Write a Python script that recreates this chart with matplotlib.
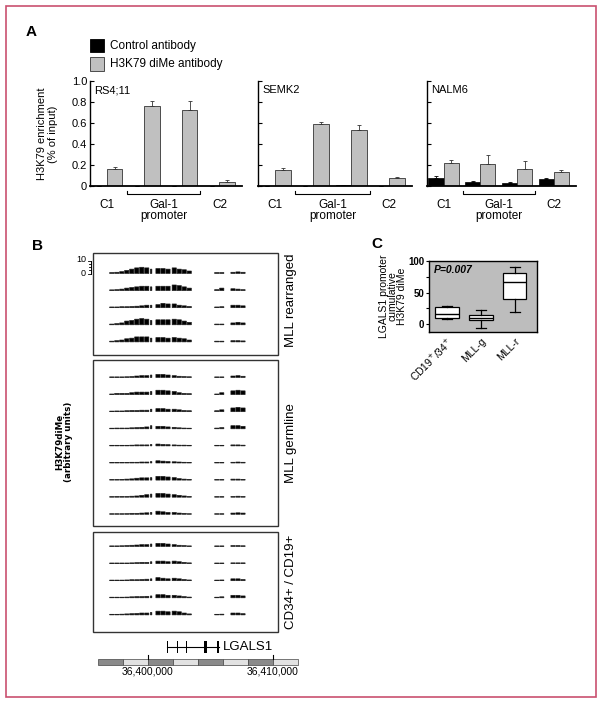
import matplotlib
matplotlib.use("Agg")
import matplotlib.pyplot as plt
from matplotlib.patches import Rectangle
import matplotlib.transforms as mtransforms

plt.rcParams["font.family"] = ["Liberation Sans", "DejaVu Sans"]

W, H = 602, 703

# ---------------- panel A data ----------------
cell_lines = ["RS4;11", "SEMK2", "NALM6"]
control_vals = {
    "RS4;11": [0.003, 0.004, 0.004, 0.003],
    "SEMK2": [0.004, 0.004, 0.008, 0.004],
    "NALM6": [0.08, 0.035, 0.03, 0.065],
}
control_err = {
    "RS4;11": [0, 0, 0, 0],
    "SEMK2": [0, 0, 0, 0],
    "NALM6": [0.015, 0.015, 0.008, 0.01],
}
h3k79_vals = {
    "RS4;11": [0.16, 0.76, 0.72, 0.04],
    "SEMK2": [0.155, 0.59, 0.53, 0.075],
    "NALM6": [0.22, 0.21, 0.165, 0.135],
}
h3k79_err = {
    "RS4;11": [0.025, 0.045, 0.09, 0.02],
    "SEMK2": [0.02, 0.015, 0.05, 0.006],
    "NALM6": [0.025, 0.09, 0.075, 0.015],
}
a_yticks = [0, 0.2, 0.4, 0.6, 0.8, 1.0]
a_yticklabels = ["0", "0.2", "0.4", "0.6", "0.8", "1.0"]

# ---------------- panel B data ----------------
# probe bins, kb relative to chr position 36,400,000
bin_kb = [-2.9, -2.5, -2.1, -1.7, -1.3, -0.9, -0.5, -0.1, 0.25,
          0.8, 1.2, 1.6, 2.1, 2.5, 2.9, 3.3, 5.5, 5.9, 6.8, 7.2, 7.6]
mll_rearranged = [
    [0.8, 1.0, 1.5, 2.5, 3.5, 4.5, 5.0, 4.5, 3.5, 4.0, 4.0, 3.5, 4.5, 3.5, 3.0, 2.0, 0.8, 0.8, 1.0, 1.3, 1.0],
    [0.6, 0.8, 1.2, 2.0, 2.5, 3.0, 3.5, 3.5, 3.0, 3.5, 3.5, 3.5, 4.5, 4.0, 3.0, 2.0, 0.8, 2.0, 1.5, 1.2, 0.8],
    [0.6, 0.6, 0.8, 0.8, 1.0, 1.2, 1.5, 2.0, 2.0, 2.5, 3.5, 3.0, 3.0, 2.0, 1.5, 1.0, 0.6, 0.8, 2.0, 2.0, 1.5],
    [0.6, 1.0, 1.5, 3.0, 3.5, 4.5, 5.0, 4.5, 3.5, 4.0, 4.0, 4.0, 4.5, 4.0, 3.0, 2.0, 0.6, 0.6, 1.5, 2.0, 1.5],
    [0.6, 1.0, 1.5, 2.5, 3.0, 4.0, 4.0, 4.0, 3.0, 3.5, 3.5, 3.0, 3.5, 3.0, 2.5, 1.5, 0.6, 0.6, 1.0, 1.0, 0.8],
]
mll_germline = [
    [0.5, 0.5, 0.5, 0.6, 0.8, 1.2, 1.5, 1.5, 2.0, 2.5, 2.5, 2.0, 1.5, 1.0, 0.8, 0.6, 0.5, 0.5, 1.2, 1.5, 1.0],
    [0.5, 1.0, 1.0, 1.0, 1.5, 2.0, 2.0, 2.0, 2.5, 3.5, 3.5, 3.0, 2.5, 1.5, 1.0, 0.8, 0.5, 1.5, 3.0, 3.5, 3.0],
    [0.5, 0.6, 0.6, 0.8, 1.0, 1.0, 1.2, 1.2, 2.0, 2.5, 2.5, 2.0, 2.0, 1.5, 1.0, 0.8, 0.8, 1.5, 3.0, 3.5, 3.0],
    [0.5, 0.6, 0.6, 0.6, 0.8, 1.0, 1.2, 1.5, 2.5, 2.0, 2.0, 1.5, 1.2, 0.8, 0.6, 0.5, 0.6, 1.0, 2.5, 2.5, 2.0],
    [0.5, 0.5, 0.5, 0.5, 0.6, 0.8, 0.8, 0.8, 1.2, 1.5, 1.2, 1.0, 0.8, 0.6, 0.6, 0.5, 0.5, 0.5, 0.8, 0.8, 0.6],
    [0.5, 0.5, 0.5, 0.5, 0.6, 0.6, 0.8, 0.8, 1.2, 1.8, 1.5, 1.2, 1.0, 0.8, 0.6, 0.5, 0.5, 0.5, 0.6, 0.8, 0.6],
    [0.5, 0.5, 0.6, 0.8, 1.0, 1.5, 1.8, 1.8, 2.0, 3.0, 3.0, 2.5, 2.0, 1.2, 0.8, 0.6, 0.5, 0.5, 0.8, 0.8, 0.6],
    [0.5, 0.6, 0.6, 0.6, 0.8, 1.0, 1.5, 2.0, 2.5, 3.0, 3.0, 2.5, 2.0, 1.5, 1.0, 0.6, 0.5, 0.5, 0.6, 0.8, 0.6],
    [0.5, 0.5, 0.5, 0.6, 0.8, 0.8, 1.0, 1.2, 1.5, 2.5, 2.0, 1.5, 1.5, 1.0, 0.8, 0.5, 0.5, 0.5, 1.0, 1.2, 1.0],
]
cd34_cd19 = [
    [0.5, 0.5, 0.6, 0.8, 1.0, 1.2, 1.5, 1.5, 2.0, 2.5, 2.5, 2.0, 1.5, 1.0, 0.8, 0.5, 0.5, 0.5, 0.8, 0.8, 0.6],
    [0.5, 0.5, 0.5, 0.5, 0.6, 0.8, 1.0, 1.0, 1.5, 2.0, 2.0, 1.5, 2.0, 1.5, 1.0, 0.6, 0.5, 0.5, 0.6, 0.6, 0.6],
    [0.5, 0.5, 0.5, 0.6, 0.8, 0.8, 1.0, 1.2, 1.5, 2.5, 2.0, 1.5, 2.0, 1.5, 1.0, 0.6, 0.5, 0.6, 1.5, 1.5, 1.0],
    [0.5, 0.5, 0.5, 0.6, 0.8, 1.0, 1.0, 1.2, 1.5, 2.5, 2.5, 2.0, 2.0, 1.5, 1.0, 0.6, 0.5, 0.8, 2.0, 2.0, 1.5],
    [0.5, 0.5, 0.6, 0.8, 1.0, 1.2, 1.5, 1.5, 2.0, 3.0, 3.0, 2.5, 3.0, 2.5, 1.5, 0.8, 0.5, 0.6, 1.5, 1.5, 1.0],
]
group_labels = ["MLL rearranged", "MLL germline", "CD34+ / CD19+"]
# LGALS1 gene model (kb), exon/feature start-end
gene_start, gene_end = 1.52, 5.68
gene_features = [(1.50, 1.58), (2.30, 2.38), (3.02, 3.10), (4.46, 4.74), (5.48, 5.68)]
ruler_segments_kb = [-4, -2, 0, 2, 4, 6, 8, 10]
ruler_ticks_kb = [0, 10]
ruler_ticklabels = ["36,400,000", "36,410,000"]

# ---------------- panel C data ----------------
c_groups = ["CD19$^{+}$/34$^{+}$", "MLL-g", "MLL-r"]
c_med = [16, 9.5, 66]
c_q1 = [9.5, 5.8, 40]
c_q3 = [27, 14.7, 80.5]
c_lo = [8.5, -6.3, 19]
c_hi = [29, 21.6, 90]


def fig_rect(left, top, right, bottom):
    return [left / W, 1 - bottom / H, (right - left) / W, (bottom - top) / H]


def fx(px):
    return px / W


def fy(py):
    return 1 - py / H


fig = plt.figure(figsize=(W / 100, H / 100), dpi=100)

# outer frame
fig.add_artist(Rectangle((fx(6), fy(697)), fx(596) - fx(6), fy(6) - fy(697),
                         transform=fig.transFigure, fill=False,
                         edgecolor="#C9506F", linewidth=1.2))

# panel letters
for letter, (px, py) in zip("ABC", [(26, 32), (32, 246), (371, 244)]):
    fig.text(fx(px), fy(py), letter, fontsize=11, fontweight="bold", va="center", ha="left")

# ---------------- panel A ----------------
GREY = "#C0C0C0"
fig.add_artist(Rectangle((fx(90), fy(52)), fx(104) - fx(90), fy(39) - fy(52),
                         transform=fig.transFigure, facecolor="black", edgecolor="black", lw=0.6))
fig.add_artist(Rectangle((fx(90), fy(71)), fx(104) - fx(90), fy(57) - fy(71),
                         transform=fig.transFigure, facecolor=GREY, edgecolor="#333333", lw=0.6))
fig.text(fx(110), fy(45.5), "Control antibody", fontsize=8.5, va="center")
fig.text(fx(110), fy(64), "H3K79 diMe antibody", fontsize=8.5, va="center")
fig.text(fx(47.5), fy(134), "H3K79 enrichment\n(% of input)", rotation=90, fontsize=8,
         ha="center", va="center", multialignment="center", linespacing=1.1)

a_boxes = [(90, 81, 242, 186), (258, 81, 412, 186), (427, 81, 576, 186)]
bw = 0.41
for i, name in enumerate(cell_lines):
    ax = fig.add_axes(fig_rect(*a_boxes[i]))
    x = range(4)
    xc = [g - bw / 2 for g in x]
    xg = [g + bw / 2 for g in x]
    ax.bar(xc, control_vals[name], bw, color="black", edgecolor="black", lw=0.5,
           yerr=[[0] * 4, control_err[name]], capsize=1.2,
           error_kw=dict(elinewidth=0.6, capthick=0.6, ecolor="black"))
    ax.bar(xg, h3k79_vals[name], bw, color=GREY, edgecolor="#333333", lw=0.6,
           yerr=[[0] * 4, h3k79_err[name]], capsize=1.2,
           error_kw=dict(elinewidth=0.6, capthick=0.6, ecolor="#333333"))
    ax.set_xlim(-0.45, 3.6)
    ax.set_ylim(0, 1.0)
    for s in ("top", "right"):
        ax.spines[s].set_visible(False)
    ax.spines["left"].set_linewidth(1.0)
    ax.spines["bottom"].set_linewidth(1.3)
    ax.set_xticks([])
    ax.set_yticks(a_yticks)
    ax.tick_params(axis="y", direction="in", length=3, width=0.8, labelsize=8, pad=2)
    if i == 0:
        ax.set_yticklabels(a_yticklabels)
    else:
        ax.set_yticklabels([])
    ax.text(0.03, 0.91, name, transform=ax.transAxes, fontsize=8, va="center")

    tr = mtransforms.blended_transform_factory(ax.transData, ax.transAxes)
    ax.plot([0.53, 0.53, 2.49, 2.49], [-0.05, -0.078, -0.078, -0.05], color="black",
            lw=0.8, transform=tr, clip_on=False)
    ax.text(0, -0.185, "C1", transform=tr, ha="center", va="center", fontsize=8.5)
    ax.text(3, -0.185, "C2", transform=tr, ha="center", va="center", fontsize=8.5)
    ax.text(1.51, -0.185, "Gal-1", transform=tr, ha="center", va="center", fontsize=8.5)
    ax.text(1.51, -0.29, "promoter", transform=tr, ha="center", va="center", fontsize=8.5)

# ---------------- panel B ----------------
def kb(px):
    return (px - 148) / 12.5


axb = fig.add_axes(fig_rect(30, 240, 310, 690))
axb.set_xlim(kb(30), kb(310))
axb.set_ylim(690, 240)
axb.axis("off")

unit_px = 1.25
bin_width = [0.12 if v == 0.25 else 0.34 for v in bin_kb]
boxes_b = [(253, 355, 273.5, mll_rearranged, 300),
           (360, 526, 377.5, mll_germline, 443),
           (532, 632, 546.5, cd34_cd19, 582)]
for (top, bottom, base0, tracks, ymid), label in zip(boxes_b, group_labels):
    axb.add_patch(Rectangle((kb(93), top), kb(278) - kb(93), bottom - top,
                            fill=False, edgecolor="#333333", lw=1.0))
    for j, heights in enumerate(tracks):
        base = base0 + 17.1 * j
        axb.bar(bin_kb, [-h * unit_px for h in heights], width=bin_width, bottom=base,
                color="black", edgecolor="#202020", lw=0.45, snap=False)
    axb.text(kb(291), ymid, label, rotation=90, ha="center", va="center", fontsize=9.5)

# scale for signal
s0 = boxes_b[0][2]
axb.plot([kb(91), kb(91)], [s0, s0 - 10 * unit_px], color="black", lw=0.7)
for k, t in enumerate([0, 2.5, 5, 7.5, 10]):
    ln = 3.5 if t in (0, 10) else 2.2
    axb.plot([kb(91) - ln / 12.5, kb(91)], [s0 - t * unit_px] * 2, color="black", lw=0.6)
axb.text(kb(86), s0 - 10 * unit_px - 1.5, "10", ha="right", va="center", fontsize=6.5)
axb.text(kb(86), s0, "0", ha="right", va="center", fontsize=6.5)

axb.text(kb(64), 442, "H3K79diMe\n(arbitrary units)", rotation=90, ha="center", va="center",
         fontsize=6.3, fontweight="bold", family="DejaVu Sans", multialignment="center",
         linespacing=0.95)

# gene model
axb.plot([gene_start, gene_end], [647, 647], color="black", lw=0.8)
axb.bar([f[0] for f in gene_features], 12, width=[f[1] - f[0] for f in gene_features],
        bottom=641, align="edge", color="black", lw=0)
axb.text(6.0, 647, "LGALS1", ha="left", va="center", fontsize=9.5)

# coordinate ruler
axb.bar(ruler_segments_kb, 6, width=2, bottom=659, align="edge",
        color=["#8A8A8A" if k % 2 == 0 else "#E2E2E2" for k in range(len(ruler_segments_kb))],
        edgecolor="#444444", lw=0.5)
for t, lab in zip(ruler_ticks_kb, ruler_ticklabels):
    axb.plot([t, t], [655, 659], color="black", lw=0.8)
    axb.text(t, 672, lab, ha="center", va="center", fontsize=7.5)

# ---------------- panel C ----------------
axc = fig.add_axes(fig_rect(429, 261, 537, 332))
axc.set_facecolor("#BDBDBD")
stats = [dict(med=m, q1=a, q3=b, whislo=lo, whishi=hi, label=g)
         for m, a, b, lo, hi, g in zip(c_med, c_q1, c_q3, c_lo, c_hi, c_groups)]
axc.bxp(stats, positions=[1, 2, 3], widths=0.68, showfliers=False, patch_artist=True,
        capwidths=0.3,
        boxprops=dict(facecolor="white", edgecolor="black", lw=0.9),
        medianprops=dict(color="black", lw=1.0),
        whiskerprops=dict(color="black", lw=0.9),
        capprops=dict(color="black", lw=0.9))
axc.set_xlim(0.47, 3.65)
axc.set_ylim(-12.5, 100)
axc.set_yticks([0, 50, 100])
axc.set_yticks([25, 75], minor=True)
axc.set_yticklabels(["0", "50", "100"], fontweight="bold")
axc.tick_params(axis="y", which="both", direction="out", length=2, width=0.8, labelsize=7, pad=1.5)
axc.tick_params(axis="x", length=0, labelsize=7.5, pad=3)
plt.setp(axc.get_xticklabels(), rotation=45, ha="right", rotation_mode="anchor")
for s in axc.spines.values():
    s.set_linewidth(1.0)
axc.text(0.04, 0.88, "P=0.007", transform=axc.transAxes, fontsize=7.5,
         fontweight="bold", fontstyle="italic", va="center")
fig.text(fx(393), fy(296), "LGALS1 promoter\ncumulative\nH3K79 diMe", rotation=90,
         ha="center", va="center", fontsize=7.5, multialignment="center", linespacing=0.9)

fig.savefig("out.png", dpi=100)
